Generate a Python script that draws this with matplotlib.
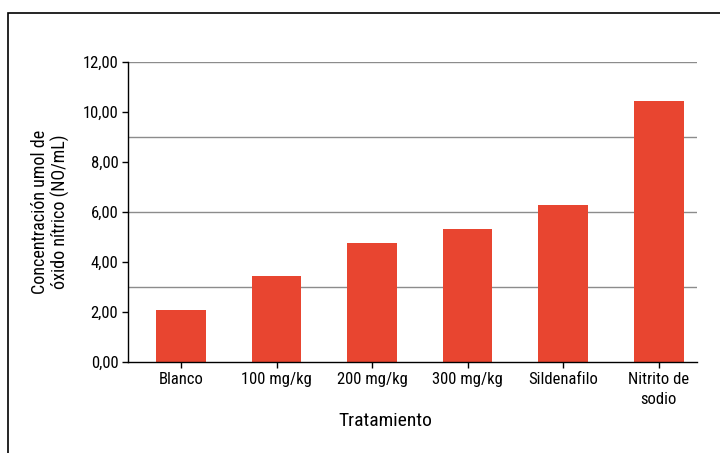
import matplotlib.pyplot as plt
from matplotlib.patches import Rectangle

# datos
tratamientos = ["Blanco", "100 mg/kg", "200 mg/kg", "300 mg/kg", "Sildenafilo", "Nitrito de\nsodio"]
concentracion = [2.08, 3.44, 4.76, 5.32, 6.28, 10.44]
y_ticks = [0, 2, 4, 6, 8, 10, 12]
grid_vals = [3, 6, 9, 12]

plt.rcParams['font.family'] = ['Roboto Condensed', 'DejaVu Sans']

fig = plt.figure(figsize=(7.2, 4.53), dpi=100)
ax = fig.add_axes([128/720, 1-362/453, (697-128)/720, 300/453])

# marco de la figura (cortado a la derecha y abajo)
fig.patches.append(Rectangle((8/720, -0.1), 1.2, 1-13/453+0.1, transform=fig.transFigure,
                             fill=False, edgecolor="black", linewidth=1.2))

x = range(len(tratamientos))
for g in grid_vals:
    ax.axhline(g, color="#8c8c8c", linewidth=1, zorder=0)
ax.bar(x, concentracion, width=0.52, color="#e84530", zorder=2)

ax.set_xlim(-0.554, 5.40)
ax.set_ylim(0, 12)
ax.set_yticks(y_ticks)
ax.set_yticklabels([f"{v:.2f}".replace(".", ",") for v in y_ticks], fontsize=12)
ax.set_xticks(list(x))
ax.set_xticklabels(tratamientos, fontsize=12, linespacing=1.45)
ax.tick_params(axis="both", length=4, width=1, color="black", pad=3)

for s in ["top", "right"]:
    ax.spines[s].set_visible(False)
ax.spines["left"].set_linewidth(1)
ax.spines["bottom"].set_linewidth(1)

ax.set_ylabel("Concentración umol de\nóxido nítrico (NO/mL)", fontsize=13, linespacing=1.15)
ax.yaxis.set_label_coords(-0.102, 0.5)
ax.set_xlabel("Tratamiento", fontsize=14)
ax.xaxis.set_label_coords(0.452, -0.168)

fig.savefig("out.png", dpi=100)
